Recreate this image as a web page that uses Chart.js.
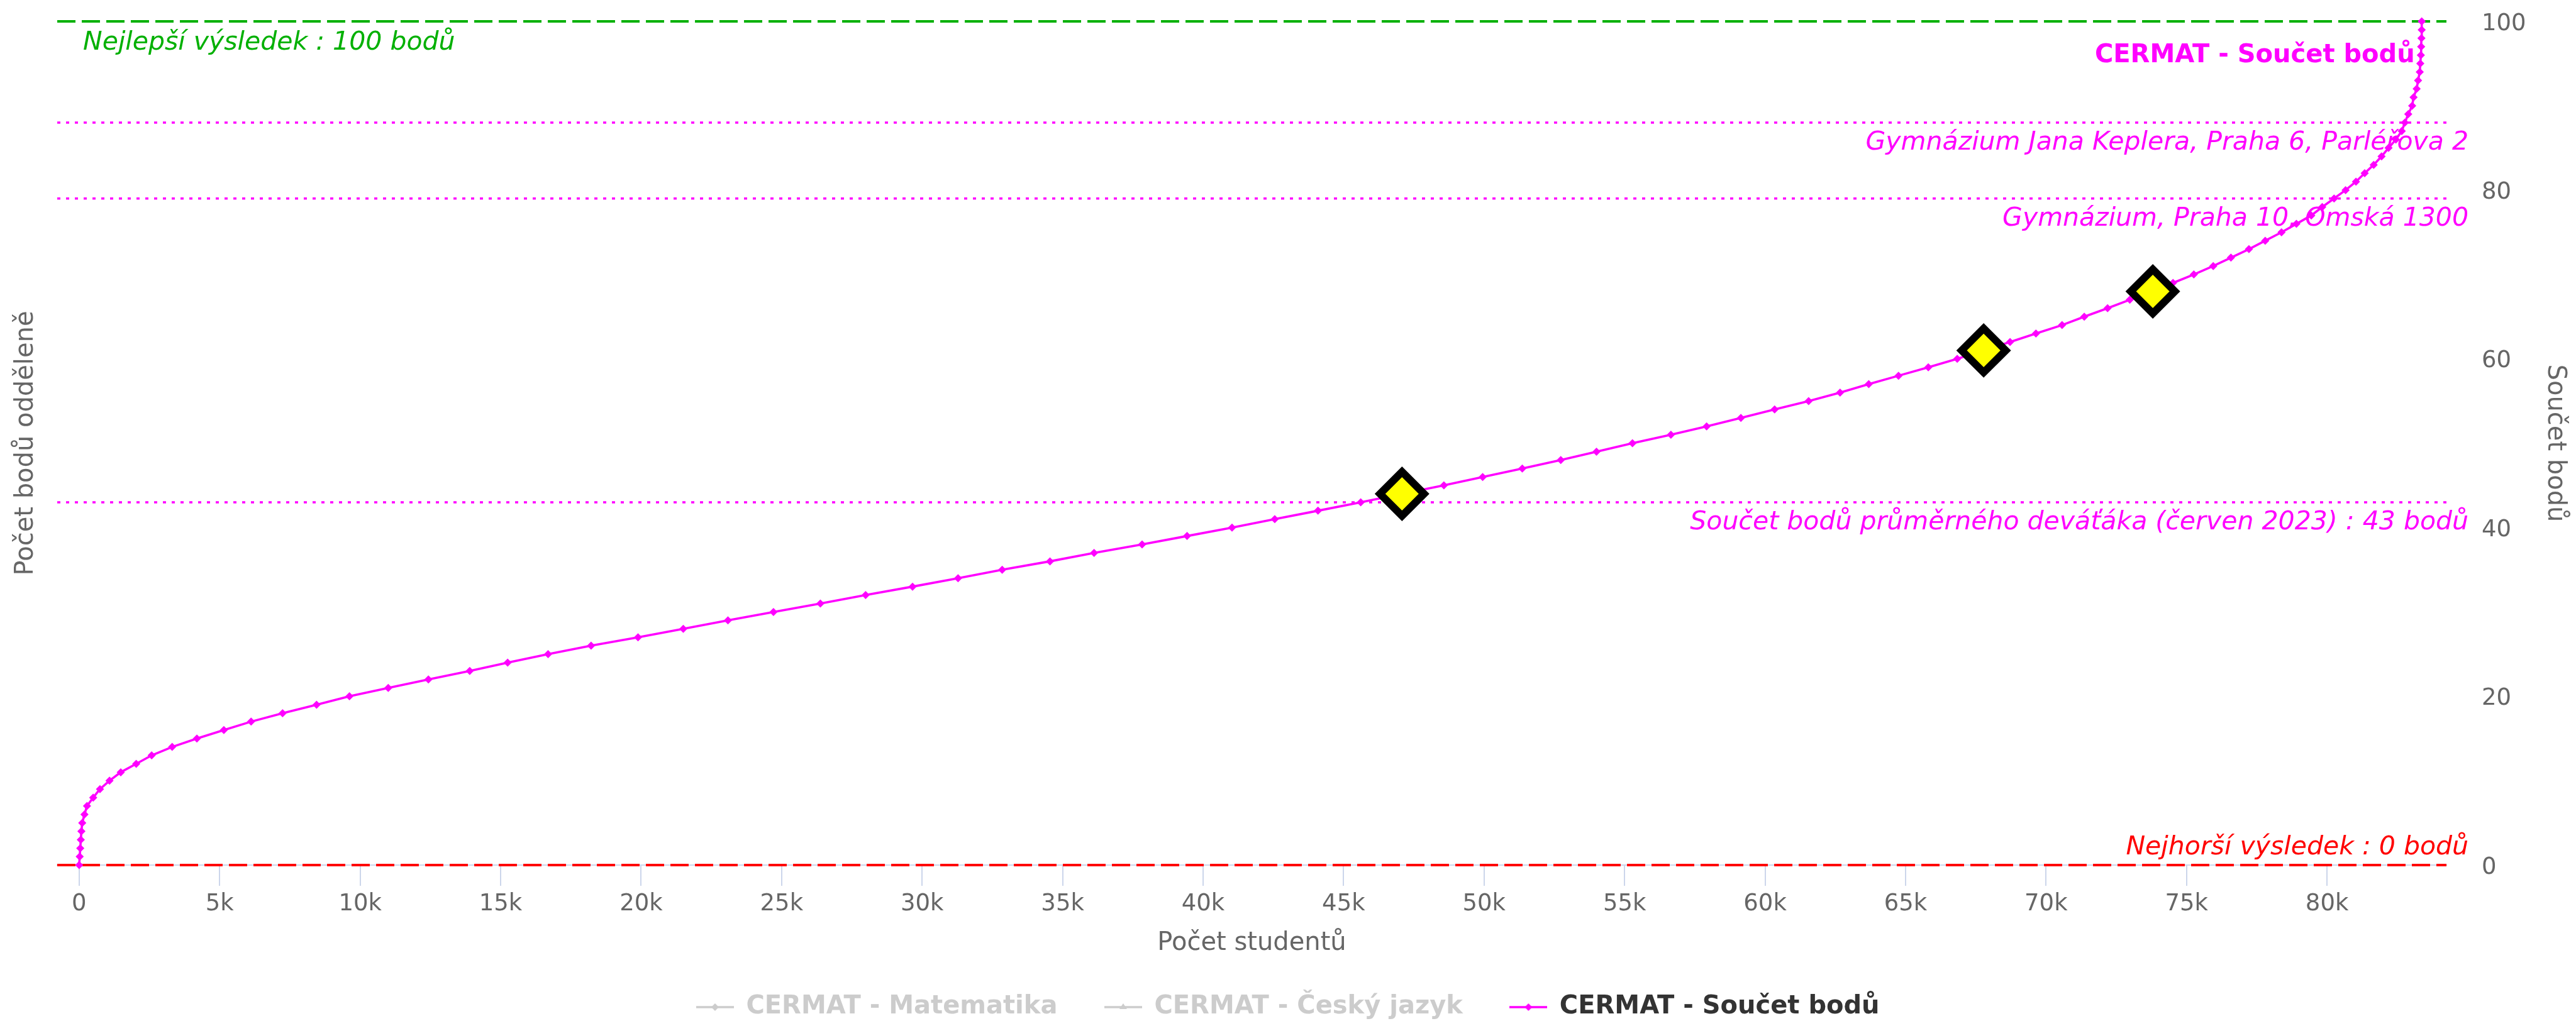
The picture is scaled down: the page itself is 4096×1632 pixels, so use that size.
<!DOCTYPE html>
<html>
<head>
<meta charset="utf-8">
<script src="https://cdn.jsdelivr.net/npm/chart.js@4/dist/chart.umd.min.js"></script>
<style>
html,body{margin:0;padding:0;background:#ffffff;}
canvas{display:block;}
</style>
</head>
<body>
<canvas id="c" width="4096" height="1632"></canvas>
<script>
// ---- data ----
const scores = [0,1,2,3,4,5,6,7,8,9,10,11,12,13,14,15,16,17,18,19,20,21,22,23,24,25,26,27,28,29,30,31,32,33,34,35,36,37,38,39,40,41,42,43,44,45,46,47,48,49,50,51,52,53,54,55,56,57,58,59,60,61,62,63,64,65,66,67,68,69,70,71,72,73,74,75,76,77,78,79,80,81,82,83,84,85,86,87,88,89,90,91,92,93,94,95,96,97,98,99,100];
const students = [0,20,40,60,80,110,190,280,500,740,1080,1480,2030,2580,3310,4190,5150,6120,7240,8450,9620,11000,12430,13900,15250,16690,18220,19890,21500,23090,24710,26380,27990,29660,31280,32850,34550,36120,37830,39430,41030,42550,44090,45610,47080,48570,49950,51360,52730,54000,55280,56650,57920,59140,60340,61550,62670,63690,64750,65810,66840,67780,68720,69640,70570,71360,72190,72980,73800,74520,75260,75950,76580,77220,77800,78380,78910,79440,79830,80250,80660,81030,81340,81660,81940,82190,82450,82660,82770,82890,83030,83080,83190,83240,83300,83320,83340,83350,83360,83370,83370];
const markerStudents = [47080, 67780, 73800];
const markerScores = [44, 61, 68];
const xTicks = [0,5000,10000,15000,20000,25000,30000,35000,40000,45000,50000,55000,60000,65000,70000,75000,80000];
const yTicks = [0,20,40,60,80,100];
const plotLineValues = [100, 88, 79, 43, 0];
const plotLineLabels = ['Nejlepší výsledek : 100 bodů','Gymnázium Jana Keplera, Praha 6, Parléřova 2','Gymnázium, Praha 10, Omská 1300','Součet bodů průměrného deváťáka (červen 2023) : 43 bodů','Nejhorší výsledek : 0 bodů'];
const seriesNames = ['CERMAT - Matematika','CERMAT - Český jazyk','CERMAT - Součet bodů'];
const xTitle = 'Počet studentů';
const yLeftTitle = 'Počet bodů odděleně';
const yRightTitle = 'Součet bodů';

// ---- styles ----
const GREEN = '#00b000', RED = '#ff0000', MAG = '#ff00ff';
const plotLineStyles = [
  {color: GREEN, width: 4, dash: [29, 10], align: 'left', dy: 45},
  {color: MAG, width: 3.5, dash: [5, 9], align: 'right', dy: 43},
  {color: MAG, width: 3.5, dash: [5, 9], align: 'right', dy: 43},
  {color: MAG, width: 3.5, dash: [5, 9], align: 'right', dy: 43},
  {color: RED, width: 4, dash: [29, 10], align: 'right', dy: -17}
];
Chart.defaults.font.family = '"DejaVu Sans", sans-serif';

function legendSymbol(color, shape) {
  const c = document.createElement('canvas');
  c.width = 60; c.height = 20;
  const g = c.getContext('2d');
  g.strokeStyle = color; g.lineWidth = 3.3;
  g.beginPath(); g.moveTo(0, 10); g.lineTo(60, 10); g.stroke();
  g.fillStyle = color;
  g.beginPath();
  if (shape === 'tri') { g.moveTo(30, 4); g.lineTo(36, 13); g.lineTo(24, 13); }
  else { g.moveTo(30, 4); g.lineTo(36, 10); g.lineTo(30, 16); g.lineTo(24, 10); }
  g.closePath(); g.fill();
  return c;
}
const legendSymbols = [legendSymbol('#cccccc', 'dia'), legendSymbol('#cccccc', 'tri'), legendSymbol(MAG, 'dia')];

const plotLinesPlugin = {
  id: 'plotLines',
  beforeDatasetsDraw(chart) {
    const {ctx, chartArea: ca} = chart;
    const y = chart.scales.y;
    plotLineValues.forEach((v, i) => {
      const st = plotLineStyles[i];
      const py = y.getPixelForValue(v);
      ctx.save();
      ctx.strokeStyle = st.color; ctx.lineWidth = st.width; ctx.setLineDash(st.dash);
      ctx.beginPath(); ctx.moveTo(ca.left, py); ctx.lineTo(ca.right, py); ctx.stroke();
      ctx.setLineDash([]);
      ctx.font = 'italic 41px "DejaVu Sans"';
      ctx.fillStyle = st.color;
      ctx.textBaseline = 'alphabetic';
      if (st.align === 'left') { ctx.textAlign = 'left'; ctx.fillText(plotLineLabels[i], ca.left + 41, py + st.dy); }
      else { ctx.textAlign = 'right'; ctx.fillText(plotLineLabels[i], ca.right + 35, py + st.dy); }
      ctx.restore();
    });
  }
};

const seriesLabelPlugin = {
  id: 'seriesLabel',
  afterDatasetsDraw(chart) {
    const {ctx} = chart;
    const x = chart.scales.x, y = chart.scales.y;
    const px = x.getPixelForValue(students[students.length - 1]) - 11;
    const py = y.getPixelForValue(scores[scores.length - 1]) + 65;
    ctx.save();
    ctx.font = 'bold 40px "DejaVu Sans"';
    ctx.fillStyle = MAG; ctx.textAlign = 'right'; ctx.textBaseline = 'alphabetic';
    ctx.fillText(seriesNames[2], px, py);
    ctx.restore();
  }
};

new Chart(document.getElementById('c'), {
  type: 'line',
  data: {
    datasets: [
      {label: seriesNames[0], data: [], hidden: true, yAxisID: 'y2', borderColor: '#cccccc', order: 3},
      {label: seriesNames[1], data: [], hidden: true, yAxisID: 'y2', borderColor: '#cccccc', order: 4},
      {label: seriesNames[2], data: scores.map((s, i) => ({x: students[i], y: s})), yAxisID: 'y',
       borderColor: MAG, backgroundColor: MAG, borderWidth: 3.6, tension: 0,
       pointStyle: 'rectRot', pointRadius: 6.5, pointBorderWidth: 0, pointBackgroundColor: MAG, order: 2, clip: 20},
      {label: 'body', data: markerScores.map((s, i) => ({x: markerStudents[i], y: s})), yAxisID: 'y', showLine: false,
       pointStyle: 'rectRot', pointRadius: 35, pointBackgroundColor: '#ffff00', pointBorderColor: '#000000', pointBorderWidth: 12, order: 1, clip: false}
    ]
  },
  options: {
    responsive: false,
    animation: false,
    devicePixelRatio: 1,
    layout: {autoPadding: false, padding: {top: 34, left: 0, right: 0, bottom: 0}},
    plugins: {
      tooltip: {enabled: false},
      legend: {
        position: 'bottom',
        onClick: () => {},
        labels: {
          usePointStyle: true, pointStyleWidth: 59, padding: 75,
          font: {size: 40, weight: 'bold'},
          generateLabels: () => seriesNames.map((name, i) => ({
            text: name, datasetIndex: i, hidden: false,
            fontColor: i === 2 ? '#333333' : '#cccccc',
            pointStyle: legendSymbols[i], lineWidth: 0,
            strokeStyle: 'rgba(0,0,0,0)', fillStyle: 'rgba(0,0,0,0)'
          }))
        }
      }
    },
    scales: {
      x: {
        type: 'linear', position: 'bottom', min: -780, max: 84250,
        afterBuildTicks: s => { s.ticks = xTicks.map(v => ({value: v})); },
        ticks: {color: '#666666', font: {size: 37}, padding: 7, maxRotation: 0, autoSkip: false,
                callback: v => v === 0 ? '0' : (v / 1000) + 'k'},
        grid: {display: true, drawOnChartArea: false, drawTicks: true, tickLength: 33, color: '#ccd6eb', lineWidth: 2},
        border: {display: true, color: '#ccd6eb', width: 2},
        title: {display: true, text: xTitle, color: '#666666', font: {size: 40}, padding: {top: 0, bottom: -18}},
        afterFit: s => { s.height = 131; }
      },
      y: {
        type: 'linear', position: 'right', min: 0, max: 100,
        afterBuildTicks: s => { s.ticks = yTicks.map(v => ({value: v})); },
        ticks: {color: '#666666', font: {size: 37, lineHeight: 0.5}, padding: 0, labelOffset: 4},
        grid: {display: true, drawOnChartArea: false, drawTicks: true, tickLength: 56, color: 'rgba(0,0,0,0)'},
        border: {display: false},
        title: {display: true, text: yRightTitle, color: '#666666', font: {size: 40}, padding: {top: 10, bottom: 0}},
        afterFit: s => { s.width = 206; }
      },
      y2: {
        type: 'linear', position: 'left', display: true,
        ticks: {display: false},
        grid: {display: false, drawTicks: false},
        border: {display: false},
        title: {display: true, text: yLeftTitle, color: '#666666', font: {size: 40}, padding: {top: 18, bottom: 0}},
        afterFit: s => { s.width = 91; }
      }
    }
  },
  plugins: [plotLinesPlugin, seriesLabelPlugin]
});
</script>
</body>
</html>
